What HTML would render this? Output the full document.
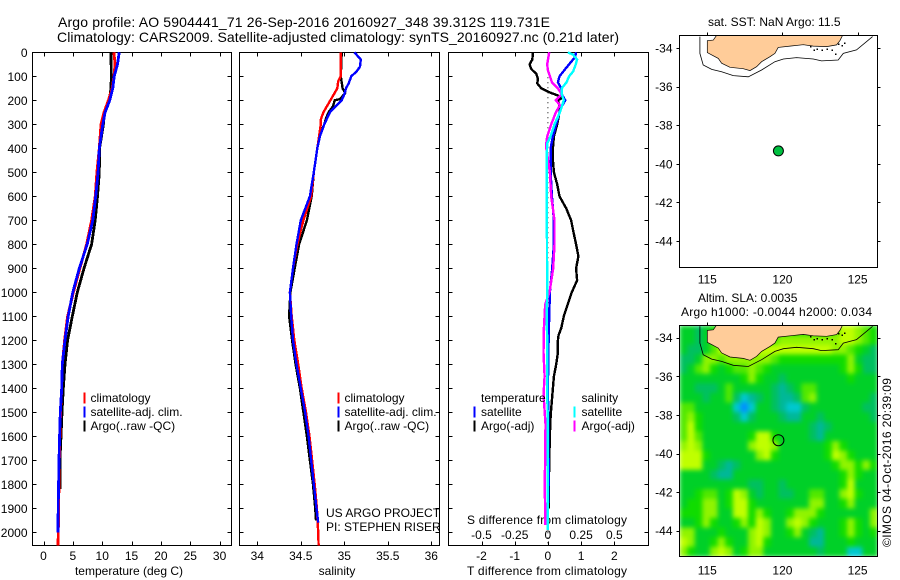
<!DOCTYPE html>
<html lang="en">
<head>
<meta charset="utf-8">
<title>Argo profile</title>
<style>
html,body{margin:0;padding:0;background:#fff;}
svg{display:block;}
text{font-family:"Liberation Sans",sans-serif;font-size:12px;fill:#000;}
</style>
</head>
<body>
<svg id="chart" xmlns="http://www.w3.org/2000/svg" width="900" height="580" viewBox="0 0 900 580">
  <rect x="0" y="0" width="900" height="580" fill="#fff"/>
  <text x="58" y="27" style="font-size:14px" textLength="492">Argo profile: AO 5904441_71 26-Sep-2016 20160927_348 39.312S 119.731E</text>
  <text x="57" y="42" style="font-size:14px" textLength="562">Climatology: CARS2009. Satellite-adjusted climatology: synTS_20160927.nc (0.21d later)</text>
  <text x="129" y="575" text-anchor="middle">temperature (deg C)</text>
  <text x="337" y="575" text-anchor="middle">salinity</text>
  <text x="547" y="575" text-anchor="middle" textLength="160">T difference from climatology</text>
  <text x="547" y="524" text-anchor="middle" textLength="160">S difference from climatology</text>
  <text x="326" y="517">US ARGO PROJECT</text>
  <text x="326" y="531">PI: STEPHEN RISER</text>
  <text x="708" y="26">sat. SST: NaN Argo: 11.5</text>
  <text x="698" y="302">Altim. SLA: 0.0035</text>
  <text x="681" y="316" textLength="191">Argo h1000: -0.0044 h2000: 0.034</text>
  <text transform="translate(891,547) rotate(-90)" textLength="169">©IMOS 04-Oct-2016 20:39:09</text>
  <defs>
    <clipPath id="clipMap1"><rect x="679.5" y="35.5" width="198" height="232"/></clipPath>
    <clipPath id="clipMap2"><rect x="679.5" y="325.5" width="198" height="231"/></clipPath>
    <filter id="heatSmooth" filterUnits="userSpaceOnUse" x="660" y="305" width="240" height="272" color-interpolation-filters="sRGB">
      <feGaussianBlur stdDeviation="2.5" edgeMode="duplicate"/>
    </filter>
  </defs>
</svg>
<script>
// depth axis
const depthTicks = [0,100,200,300,400,500,600,700,800,900,1000,1100,1200,1300,1400,1500,1600,1700,1800,1900,2000];
const tempTicks = [0,5,10,15,20,25,30];
const salTicks = [34,34.5,35,35.5,36];
const salTickLabels = ['34','34.5','35','35.5','36'];
const tDiffTicks = [-2,-1,0,1,2];
const sDiffTicks = [-0.5,-0.25,0,0.25,0.5];
const sDiffTickLabels = ['-0.5','-0.25','0','0.25','0.5'];
const lonTicks = [115,120,125];
const latTicks = [-34,-36,-38,-40,-42,-44];

// temperature panel
const tempClimDepth = [0,50,100,150,200,250,300,400,500,600,700,800,900,1000,1100,1200,1300,1400,1500,1600,1700,1800,1900,2000,2054];
const tempClimValue = [12.0,12.2,12.0,11.7,11.05,10.3,9.8,9.5,9.1,8.8,8.2,7.35,6.2,5.1,4.1,3.6,3.2,3.1,2.9,2.8,2.7,2.64,2.58,2.52,2.47];
const tempSatDepth = [0,50,100,150,200,250,300,400,500,600,700,800,900,1000,1100,1200,1300,1400,1500,1600,1700,1800,1900,2000];
const tempSatValue = [12.9,12.6,12.05,11.8,11.3,10.5,10.1,9.5,9.3,8.9,8.4,7.45,6.1,5.0,4.2,3.66,3.2,3.1,2.87,2.75,2.64,2.58,2.5,2.47];
const tempArgoDepth = [0,100,150,200,250,300,400,500,600,700,800,900,1000,1100,1200,1300,1400,1500,1600,1700,1820];
const tempArgoValue = [11.5,11.55,11.5,11.2,10.4,10.2,9.55,9.5,9.2,8.8,8.2,6.9,5.75,4.9,4.1,3.66,3.38,3.15,2.98,2.8,2.8];

// salinity panel
const salClimDepth = [0,50,100,120,150,200,250,280,300,350,400,500,600,700,800,900,1000,1100,1200,1300,1400,1500,1600,1700,1800,1900,2000,2054];
const salClimValue = [34.96,34.96,34.96,34.93,34.92,34.84,34.76,34.73,34.73,34.71,34.69,34.65,34.62,34.53,34.46,34.41,34.375,34.395,34.425,34.47,34.51,34.56,34.6,34.63,34.66,34.685,34.7,34.705];
const salSatDepth = [0,10,30,60,80,100,130,150,175,200,225,250,300,350,400,500,600,700,800,900,1000,1100,1200,1300,1400,1500,1600,1700,1800,1900,1960];
const salSatValue = [35.115,35.14,35.19,35.18,35.14,35.08,35.05,35.02,35.0,34.97,34.9,34.835,34.77,34.72,34.69,34.65,34.605,34.5,34.45,34.41,34.375,34.39,34.41,34.45,34.5,34.55,34.59,34.62,34.65,34.68,34.7];
const salArgoDepth = [0,100,150,170,195,200,225,250,275,300,350,400,500,600,700,800,900,1000,1100,1200,1300,1400,1500,1600,1700,1800,1900,1950];
const salArgoValue = [34.97,34.96,34.98,35.01,34.95,34.89,34.87,34.82,34.79,34.77,34.71,34.69,34.65,34.625,34.57,34.48,34.43,34.38,34.365,34.4,34.44,34.49,34.53,34.57,34.605,34.64,34.665,34.675];

// difference panel
const dTempSatDepth = [0,20,40,70,100,125,150,175,200,225,250,300,350,400,500,600,700,800,900,1000,1100,1200,1300,1400,1500,1600,1700,1800,1900,1990];
const dTempSatValue = [0.85,0.82,0.7,0.52,0.35,0.3,0.4,0.42,0.52,0.42,0.35,0.25,0.15,0.08,0.08,0.12,0.18,0.18,0.13,0.06,0.04,0.02,0.01,0,0.01,0.01,0.02,0.02,0,0];
const dTempArgoDepth = [0,30,50,70,90,110,130,150,167,180,190,200,225,250,300,350,400,450,500,550,600,650,700,750,800,850,900,950,1000,1050,1100,1150,1180,1200,1250,1300,1350,1400,1450,1500,1550,1600,1700,1800,1900];
const dTempArgoValue = [-0.45,-0.47,-0.55,-0.5,-0.35,-0.3,-0.32,-0.2,0.05,0.3,0.45,0.3,0.35,0.35,0.28,0.18,0.15,0.15,0.18,0.28,0.35,0.55,0.7,0.77,0.85,0.92,0.85,0.88,0.72,0.6,0.48,0.4,0.32,0.3,0.3,0.25,0.18,0.15,0.12,0.09,0.07,0.06,0.04,0.03,0.03];
const dSalSatDepth = [0,10,30,50,80,100,125,150,175,200,250,300,350,380,450,1000,1100,1200,1300,1400,1500,1600,1700,1800,1900,1990];
const dSalSatValue = [0.15,0.19,0.22,0.21,0.19,0.16,0.14,0.105,0.105,0.12,0.09,0.05,0.02,-0.005,-0.01,-0.005,-0.01,-0.005,-0.005,-0.005,-0.002,-0.002,-0.002,0,0,0];
const dSalArgoDepth = [0,50,75,100,125,150,175,200,220,250,300,350,380,400,500,600,700,800,900,1000,1050,1150,1250,1350,1400,1450,1550,1700,1800,1900,1970];
const dSalArgoValue = [0.01,-0.005,0,0.015,0.03,0.075,0.105,0.06,0.09,0.06,0.025,-0.005,-0.012,-0.012,0.015,0.025,0.05,0.05,0.04,0.012,-0.02,-0.03,-0.033,-0.025,-0.03,-0.03,-0.018,-0.02,-0.025,-0.02,-0.02];

// map geography
const landLon = [115.62,115.4,115,115,115.29,115.73,115.95,116.51,117.39,117.84,118.28,118.61,119.17,119.5,119.72,120.5,121.39,122.05,122.94,123.6,123.82,124.0];
const landLat = [-33.34,-33.59,-33.62,-34.24,-34.36,-34.54,-34.79,-35.0,-35.07,-35.17,-34.97,-34.71,-34.45,-34.28,-33.97,-33.9,-33.83,-33.9,-33.93,-33.84,-33.62,-33.34];
const isobathLon = [114.51,114.51,114.73,115.29,115.95,116.73,117.73,118.61,119.5,120.06,120.94,122.05,122.6,123.71,124.05,124.93,125.6,126.0];
const isobathLat = [-33.41,-34.28,-34.88,-35.11,-35.23,-35.43,-35.49,-35.14,-34.71,-34.57,-34.5,-34.57,-34.67,-34.62,-34.28,-34.1,-33.67,-33.41];
const isletLon = [121.83,122.05,122.27,122.6,122.94,123.27,123.49,123.71,123.94,124.11];
const isletLat = [-33.9,-34.07,-34.02,-34.07,-34.02,-34.07,-34.28,-33.76,-33.84,-33.72];
const floatLon = [119.731];
const floatLat = [-39.312];

// SLA heatmap: colour level per cell, rows north to south
const slaLevels = [
[4,4,3,4,5,5,5,5,5,5,5,5,5,5,5,5,5,5,5,5,6,8,8,7,6,5],
[4,4,3,4,6,6,6,6,6,6,6,6,6,7,7,7,7,7,7,7,7,8,8,7,6,5],
[4,3,3,4,6,8,8,8,8,8,8,8,8,8,8,8,8,8,8,8,7,7,6,5,4,3],
[3,3,4,7,7,6,7,7,7,7,7,7,6,5,5,5,5,5,5,5,5,5,7,4,3,3],
[3,4,6,7,5,4,5,6,6,7,6,5,4,4,4,4,4,4,4,4,4,5,7,5,3,3],
[4,4,4,4,4,4,4,4,5,7,5,4,4,3,4,4,4,4,4,4,4,4,5,4,4,4],
[4,4,3,3,3,4,6,4,4,4,4,4,3,2,3,4,6,6,4,4,4,4,4,4,4,4],
[4,4,4,3,4,4,6,3,1,2,3,4,3,2,2,3,6,7,4,4,4,4,4,4,4,3],
[6,6,4,4,4,4,4,1,0,1,4,4,3,2,1,1,3,4,4,4,4,4,4,4,3,3],
[6,7,5,4,4,4,4,3,1,3,4,4,4,3,2,2,4,4,3,4,4,4,4,4,4,3],
[6,8,5,4,4,4,4,4,4,4,4,4,4,4,4,4,4,3,2,3,4,4,4,4,4,4],
[6,8,6,4,4,4,4,4,4,5,8,8,5,4,4,4,4,3,2,4,4,4,4,4,4,4],
[7,8,7,4,4,4,4,4,4,7,8,8,7,4,4,4,4,4,4,5,7,5,4,4,4,4],
[8,8,8,5,4,4,4,4,4,4,7,8,5,4,4,4,4,4,4,5,8,7,5,4,4,4],
[8,8,8,4,4,3,2,3,4,4,4,4,4,4,4,4,4,4,4,4,5,7,7,5,7,5],
[4,4,4,4,3,2,2,4,4,4,4,4,4,4,4,4,4,4,4,4,4,5,7,5,4,4],
[4,4,4,4,4,4,4,4,4,3,3,4,4,3,4,4,4,4,4,4,4,5,8,4,4,4],
[4,4,5,6,6,4,5,8,7,4,3,4,4,3,3,4,4,6,6,4,4,7,8,5,4,4],
[4,5,5,7,7,4,5,8,8,5,4,4,4,4,4,4,4,7,7,4,4,5,7,4,4,4],
[5,5,5,7,7,4,4,8,8,5,7,5,4,4,5,7,7,7,5,4,4,4,4,4,4,7],
[4,4,5,7,5,4,4,5,7,5,8,7,4,4,7,8,7,5,4,4,4,5,7,5,4,7],
[7,7,4,4,4,5,4,4,4,7,8,7,4,4,5,7,4,3,2,4,4,5,7,5,4,5],
[8,7,4,4,5,7,5,4,4,7,8,5,4,4,4,4,4,2,2,4,4,4,5,4,4,4],
[7,5,4,4,7,8,7,4,5,7,7,4,4,4,4,4,4,4,3,4,4,4,1,1,4,4]
];

const NS = 'http://www.w3.org/2000/svg';
const svg = document.getElementById('chart');
const levelColor = ['#0090ff','#00c8d0','#00b898','#00c060','#00d028','#10dc00','#50e800','#90f400','#c0ff00'];

function mk(tag, attrs, text) {
  const el = document.createElementNS(NS, tag);
  for (const k in attrs) el.setAttribute(k, attrs[k]);
  if (text !== undefined) el.textContent = text;
  svg.appendChild(el);
  return el;
}

// axis functions
const depthY = d => 52.3 + d * 0.24;
const tempX = v => 43.5 + v * 5.87;
const salX = v => 257.3 + (v - 34) * 87;
const tDiffX = v => 547.9 + v * 33.2;
const sDiffX = v => 547.9 + v * 132.8;
const lonX = v => 707.3 + (v - 115) * 15.03;
const lat1Y = v => 48 - (v + 34) * 19.3;
const lat2Y = v => 337.7 - (v + 34) * 19.3;
const LON_W = 679.5, LON_E = 877.5;

function series(xs, ds, xf, color, name, width) {
  const pts = xs.map((v, i) => xf(v).toFixed(1) + ',' + depthY(ds[i]).toFixed(1)).join(' ');
  const el = mk('polyline', {points: pts, fill: 'none', stroke: color, 'stroke-width': width, 'shape-rendering': 'crispEdges'});
  
  
}

function profileFrame(x0, x1, xTicks, xLabels, xf, showDepthLabels, name) {
  const T = 52.5, B = 545.5;
  const frame = mk('rect', {x: x0, y: T, width: x1 - x0, height: B - T, fill: 'none', stroke: '#000', 'stroke-width': 1, 'shape-rendering': 'crispEdges'});
  
  
  xTicks.forEach((t, i) => {
    const x = Math.round(xf(t)) + 0.5;
    const top = mk('line', {x1: x, x2: x, y1: T, y2: T + 4, stroke: '#000', 'shape-rendering': 'crispEdges'});
    
    
    const bot = mk('line', {x1: x, x2: x, y1: B, y2: B - 4, stroke: '#000', 'shape-rendering': 'crispEdges'});
    
    
    const lab = mk('text', {x: xf(t), y: 560, 'text-anchor': 'middle'}, xLabels[i]);
    
    
  });
  depthTicks.forEach(d => {
    const y = Math.round(depthY(d)) + 0.5;
    const l = mk('line', {x1: x0, x2: x0 + 4, y1: y, y2: y, stroke: '#000', 'shape-rendering': 'crispEdges'});
    
    
    const r = mk('line', {x1: x1, x2: x1 - 4, y1: y, y2: y, stroke: '#000', 'shape-rendering': 'crispEdges'});
    
    
    if (showDepthLabels) {
      const lab = mk('text', {x: 27.5, y: depthY(d) + 4.5, 'text-anchor': 'end'}, String(d));
      
      
    }
  });
}

function legendEntry(barX, textX, y, color, label, name) {
  if (color) {
    const b = mk('rect', {x: barX, y: y - 5.5, width: 2.2, height: 11, fill: color, 'shape-rendering': 'crispEdges'});
    
    
  }
  const t = mk('text', {x: textX, y: y + 4}, label);
  
  
}

// temperature panel
profileFrame(32.5, 231.5, tempTicks, tempTicks.map(String), tempX, true, 'temperature-panel');
series(tempArgoValue, tempArgoDepth, tempX, '#000', 'temperature-argo-line', 2.8);
series(tempClimValue, tempClimDepth, tempX, '#f00', 'temperature-climatology-line', 2.8);
series(tempSatValue, tempSatDepth, tempX, '#00f', 'temperature-satellite-line', 2.8);
legendEntry(83.5, 90.5, 398, '#f00', 'climatology', 'temperature-legend-climatology');
legendEntry(83.5, 90.5, 412, '#00f', 'satellite-adj. clim.', 'temperature-legend-satellite');
legendEntry(83.5, 90.5, 426, '#000', 'Argo(..raw -QC)', 'temperature-legend-argo');

// salinity panel
profileFrame(239.5, 439.5, salTicks, salTickLabels, salX, false, 'salinity-panel');
series(salArgoValue, salArgoDepth, salX, '#000', 'salinity-argo-line', 2.4);
series(salClimValue, salClimDepth, salX, '#f00', 'salinity-climatology-line', 2.4);
series(salSatValue, salSatDepth, salX, '#00f', 'salinity-satellite-line', 2.4);
legendEntry(337.5, 344.5, 398, '#f00', 'climatology', 'salinity-legend-climatology');
legendEntry(337.5, 344.5, 412, '#00f', 'satellite-adj. clim.', 'salinity-legend-satellite');
legendEntry(337.5, 344.5, 426, '#000', 'Argo(..raw -QC)', 'salinity-legend-argo');

// difference panel
profileFrame(448.5, 648.5, tDiffTicks, tDiffTicks.map(String), tDiffX, false, 'difference-panel');
sDiffTicks.forEach((t, i) => {
  const lab = mk('text', {x: sDiffX(t), y: 539, 'text-anchor': 'middle'}, sDiffTickLabels[i]);
  
  
});
const zeroLine = mk('line', {x1: tDiffX(0), x2: tDiffX(0), y1: depthY(0), y2: depthY(2054), stroke: '#000', 'stroke-dasharray': '1 4'});


series(dTempArgoValue, dTempArgoDepth, tDiffX, '#000', 'difference-temperature-argo-line', 2.4);
series(dTempSatValue, dTempSatDepth, tDiffX, '#00f', 'difference-temperature-satellite-line', 2.4);
series(dSalArgoValue, dSalArgoDepth, sDiffX, '#f0f', 'difference-salinity-argo-line', 2.4);
series(dSalSatValue, dSalSatDepth, sDiffX, '#0ff', 'difference-salinity-satellite-line', 2.4);
legendEntry(0, 481, 398, null, 'temperature', 'difference-legend-temperature-heading');
legendEntry(473.5, 481, 412, '#00f', 'satellite', 'difference-legend-temperature-satellite');
legendEntry(473.5, 481, 426, '#000', 'Argo(-adj)', 'difference-legend-temperature-argo');
legendEntry(0, 581.5, 398, null, 'salinity', 'difference-legend-salinity-heading');
legendEntry(573.5, 581.5, 412, '#0ff', 'satellite', 'difference-legend-salinity-satellite');
legendEntry(573.5, 581.5, 426, '#f0f', 'Argo(-adj)', 'difference-legend-salinity-argo');

// maps
function lonLatPoints(lons, lats, yf) {
  return lons.map((v, i) => lonX(v).toFixed(1) + ',' + yf(lats[i]).toFixed(1)).join(' ');
}

function drawMap(T, B, yf, clipId, prefix, labelY) {
  const land = mk('polygon', {points: lonLatPoints(landLon, landLat, yf), fill: '#ffcc99', stroke: '#000', 'stroke-width': 0.7, 'clip-path': 'url(#' + clipId + ')'});
  
  
  const iso = mk('polyline', {points: lonLatPoints(isobathLon, isobathLat, yf), fill: 'none', stroke: '#000', 'stroke-width': 0.8, 'clip-path': 'url(#' + clipId + ')'});
  
  
  isletLon.forEach((v, i) => {
    const dot = mk('rect', {x: lonX(v), y: yf(isletLat[i]), width: 1.5, height: 1.5, fill: '#000', 'shape-rendering': 'crispEdges'});
    
    
  });
  const frame = mk('rect', {x: LON_W, y: T, width: LON_E - LON_W, height: B - T, fill: 'none', stroke: '#000', 'shape-rendering': 'crispEdges'});
  
  
  lonTicks.forEach(t => {
    const x = Math.round(lonX(t)) + 0.5;
    const tick = mk('line', {x1: x, x2: x, y1: T, y2: T - 3, stroke: '#000', 'shape-rendering': 'crispEdges'});
    
    
    const lab = mk('text', {x: lonX(t), y: labelY, 'text-anchor': 'middle'}, String(t));
    
    
  });
  latTicks.forEach(t => {
    const y = Math.round(yf(t)) + 0.5;
    const l = mk('line', {x1: LON_W, x2: LON_W - 3, y1: y, y2: y, stroke: '#000', 'shape-rendering': 'crispEdges'});
    
    
    const r = mk('line', {x1: LON_E, x2: LON_E + 3, y1: y, y2: y, stroke: '#000', 'shape-rendering': 'crispEdges'});
    
    
    const lab = mk('text', {x: 672.5, y: yf(t) + 4.5, 'text-anchor': 'end'}, String(t));
    
    
  });
}

// SST map
drawMap(35.5, 267.5, lat1Y, 'clipMap1', 'sst-map', 283.5);
const sstMarker = mk('circle', {cx: lonX(floatLon[0]), cy: lat1Y(floatLat[0]) + 0.4, r: 5, fill: '#00c040', stroke: '#000', 'stroke-width': 1});



// SLA heatmap cells, softened and clipped to the map frame
const heatClip = mk('g', {'clip-path': 'url(#clipMap2)'});


const heatGroup = document.createElementNS(NS, 'g');
heatGroup.setAttribute('filter', 'url(#heatSmooth)');
heatClip.appendChild(heatGroup);
const heatW = (LON_E - LON_W) / slaLevels[0].length;
const heatH = 231 / slaLevels.length;
slaLevels.forEach((row, r) => {
  row.forEach((level, c) => {
    const cell = document.createElementNS(NS, 'rect');
    cell.setAttribute('x', LON_W + c * heatW);
    cell.setAttribute('y', 325.5 + r * heatH);
    cell.setAttribute('width', heatW + 0.6);
    cell.setAttribute('height', heatH + 0.6);
    cell.setAttribute('fill', levelColor[level]);
    
    
    heatGroup.appendChild(cell);
  });
});
drawMap(325.5, 556.5, lat2Y, 'clipMap2', 'sla-map', 574.5);
const slaMarker = mk('circle', {cx: lonX(floatLon[0]), cy: lat2Y(floatLat[0]), r: 5.5, fill: 'none', stroke: '#000', 'stroke-width': 1});


</script>
</body>
</html>
